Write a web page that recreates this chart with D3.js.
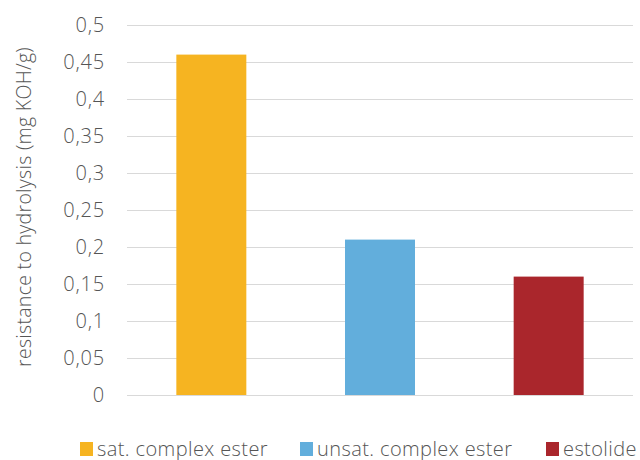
<!DOCTYPE html>
<html><head><meta charset="utf-8">
<script src="https://cdn.jsdelivr.net/npm/d3@7"></script>
<style>body{margin:0;background:#fff}svg{display:block}text{font-family:"Open Sans",sans-serif;fill:#555;font-weight:300}</style>
</head><body>
<svg id="c" width="640" height="460"></svg>
<script>
const categories = ["sat. complex ester", "unsat. complex ester", "estolide"];
const values = [0.46, 0.21, 0.16];
const colors = ["#F6B421", "#62AEDC", "#AA262C"];
const yTicks = [0, 0.05, 0.1, 0.15, 0.2, 0.25, 0.3, 0.35, 0.4, 0.45, 0.5];
const yTitle = "resistance to hydrolysis (mg KOH/g)";

const svg = d3.select("#c");
const x = d3.scaleBand().domain(categories).range([127, 633]).paddingInner(0.585).paddingOuter(0.2925);
const y = d3.scaleLinear().domain([0, 0.5]).range([395, 25]);
const fmt = v => String(v).replace(".", ",");

svg.append("g").selectAll("line").data(yTicks).join("line")
  .attr("x1", 127).attr("x2", 633).attr("y1", d => Math.round(y(d)) + 0.5).attr("y2", d => Math.round(y(d)) + 0.5)
  .attr("stroke", "#d9d9d9").attr("stroke-width", 1.2);

const yAxis = svg.append("g").attr("transform", "translate(127,0)")
  .call(d3.axisLeft(y).tickValues(yTicks).tickFormat(fmt).tickSize(0).tickPadding(22));
yAxis.select(".domain").remove();
yAxis.selectAll("text").style("font-size", "20px").style("font-family", "'Open Sans',sans-serif")
  .style("font-weight", 300).style("letter-spacing", "0.8px").attr("fill", "#555");

svg.append("g").selectAll("rect").data(values).join("rect")
  .attr("x", (d, i) => x(categories[i])).attr("width", x.bandwidth())
  .attr("y", d => y(d)).attr("height", d => y(0) - y(d))
  .attr("fill", (d, i) => colors[i]);

svg.append("text").attr("transform", "translate(31,207) rotate(-90)")
  .attr("text-anchor", "middle").style("font-size", "19.5px").style("letter-spacing", "0.3px").text(yTitle);

const legX = [80, 300, 546];
const lg = svg.append("g").selectAll("g").data(categories).join("g")
  .attr("transform", (d, i) => `translate(${legX[i]},442)`);
lg.append("rect").attr("width", 13).attr("height", 14).attr("fill", (d, i) => colors[i]);
lg.append("text").attr("x", 17).attr("y", 13.5).style("font-size", "20px").style("letter-spacing", "0.4px").text(d => d);
</script>
</body></html>
